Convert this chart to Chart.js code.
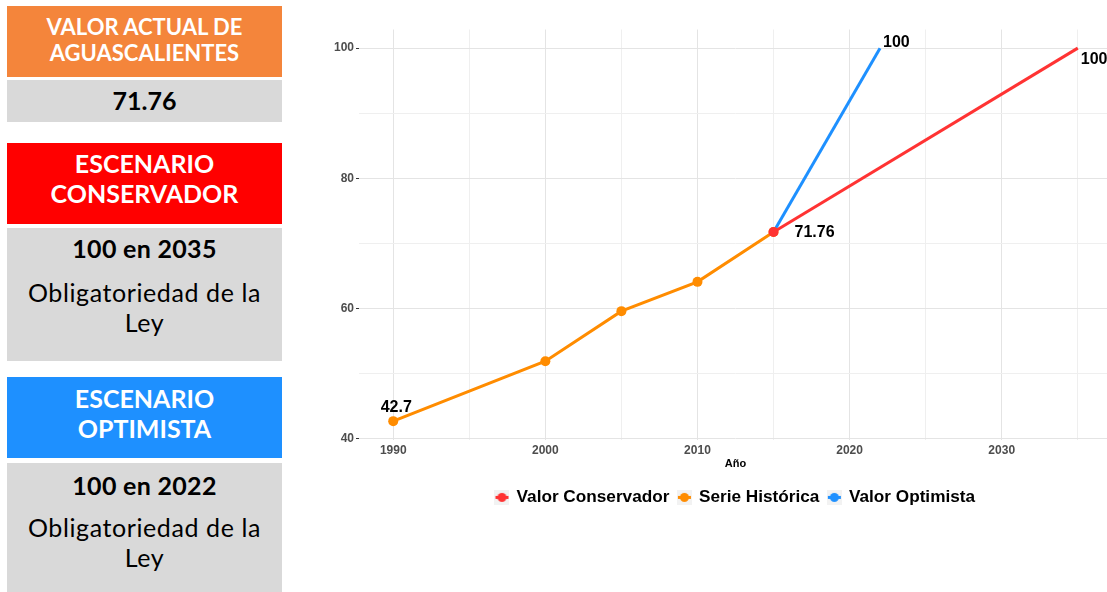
<!DOCTYPE html>
<html>
<head>
<meta charset="utf-8">
<script src="https://cdn.jsdelivr.net/npm/chart.js@4"></script>
<style>
  html, body { margin: 0; padding: 0; background: #fff; overflow: hidden; }
  body { width: 1107px; height: 592px; position: relative; font-family: Lato, "Open Sans", sans-serif; }
  .box { position: absolute; left: 7px; width: 275px; text-align: center; box-sizing: border-box; }
  .head { color: #fff; font-weight: 700; }
  .grey { background: #d9d9d9; color: #000; }
  .b { font-weight: 700; }
  .reg { font-size: 25px; letter-spacing: 0.6px; }
  #chart_canvas { position: absolute; left: 300px; top: 0; }
</style>
</head>
<body>
<div class="box head" style="top:6px;height:71px;background:#f4853b;font-size:22px;line-height:26px;padding-top:8px;">VALOR ACTUAL DE<br>AGUASCALIENTES</div>
<div class="box grey b" style="top:80px;height:42px;font-size:25px;line-height:40px;">71.76</div>

<div class="box head" style="top:143px;height:81px;background:#ff0000;font-size:25px;line-height:30px;padding-top:5px;">ESCENARIO<br>CONSERVADOR</div>
<div class="box grey" style="top:228px;height:133px;font-size:24px;line-height:30px;padding-top:5px;">
  <div class="b" style="font-size:25px;letter-spacing:0.3px;margin-bottom:14px;">100 en 2035</div>
  <div class="reg">Obligatoriedad de la<br>Ley</div>
</div>

<div class="box head" style="top:377px;height:81px;background:#1e90ff;font-size:25px;line-height:30px;padding-top:6px;">ESCENARIO<br>OPTIMISTA</div>
<div class="box grey" style="top:463px;height:129px;font-size:24px;line-height:30px;padding-top:7px;">
  <div class="b" style="font-size:25px;letter-spacing:0.3px;margin-bottom:12px;">100 en 2022</div>
  <div class="reg">Obligatoriedad de la<br>Ley</div>
</div>

<!-- wider than the window on purpose: the plot panel runs past the right edge -->
<canvas id="chart_canvas" width="817" height="592"></canvas>

<script>
// values
const histYears = [1990, 2000, 2005, 2010, 2015];
const histValues = [42.7, 51.9, 59.6, 64.1, 71.76];
const consYears = [2015, 2035];
const consValues = [71.76, 100];
const optYears = [2015, 2022];
const optValues = [71.76, 100];
const xTicks = [1990, 1995, 2000, 2005, 2010, 2015, 2020, 2025, 2030, 2035];
const yTicks = [40, 50, 60, 70, 80, 90, 100];
const xLabelTicks = [1990, 2000, 2010, 2020, 2030];
const yLabelTicks = [40, 60, 80, 100];

const RED = '#ff3333', ORANGE = '#ff8c00', BLUE = '#1e90ff';
const FONT = "'Liberation Sans', Arial, sans-serif";

const toPts = (xs, ys) => xs.map((x, i) => ({ x: x, y: ys[i] }));

function legendKey(color) {
  let c = document.createElement('canvas');
  c.width = 15; c.height = 15;
  let g = c.getContext('2d');
  g.fillStyle = '#f2f2f2';
  g.fillRect(0, 0, 15, 15);
  g.strokeStyle = color; g.lineWidth = 3;
  g.beginPath(); g.moveTo(1, 7.5); g.lineTo(14, 7.5); g.stroke();
  g.fillStyle = color;
  g.beginPath(); g.arc(7.5, 7.5, 4.5, 0, Math.PI * 2); g.fill();
  return c;
}
const keys = [legendKey(RED), legendKey(ORANGE), legendKey(BLUE)];

// which points get a value label: dataset, index, offset
const valueLabels = [
  { ds: 1, i: 0, dx: 3, dy: -14, align: 'center' },
  { ds: 0, i: 0, dx: 21, dy: 1, align: 'left' },
  { ds: 2, i: 1, dx: 3, dy: -6, align: 'left' },
  { ds: 0, i: 1, dx: 3, dy: 11, align: 'left' }
];

const labelPlugin = {
  id: 'valueLabels',
  afterDatasetsDraw(chart) {
    let g = chart.ctx;
    g.save();
    g.font = 'bold 16px ' + FONT;
    g.fillStyle = '#000';
    g.textBaseline = 'middle';
    valueLabels.forEach(l => {
      let pt = chart.getDatasetMeta(l.ds).data[l.i];
      let v = chart.data.datasets[l.ds].data[l.i].y;
      g.textAlign = l.align;
      g.fillText(String(v), pt.x + l.dx, pt.y + l.dy);
    });
    g.restore();
  }
};

let ctx = document.getElementById('chart_canvas');
let chart = new Chart(ctx, { // eslint-disable-line no-unused-vars
  type: 'line',
  data: {
    datasets: [{
      label: 'Valor Conservador',
      data: toPts(consYears, consValues),
      borderColor: RED,
      backgroundColor: RED,
      borderWidth: 3,
      pointRadius: [5, 0],
      pointBorderWidth: 0
    }, {
      label: 'Serie Histórica',
      data: toPts(histYears, histValues),
      borderColor: ORANGE,
      backgroundColor: ORANGE,
      borderWidth: 3,
      pointRadius: 5,
      pointBorderWidth: 0
    }, {
      label: 'Valor Optimista',
      data: toPts(optYears, optValues),
      borderColor: BLUE,
      backgroundColor: BLUE,
      borderWidth: 3,
      pointRadius: 0
    }]
  },
  options: {
    responsive: false,
    animation: false,
    layout: { padding: { top: 29.5, left: 0, right: 0, bottom: 76 } },
    scales: {
      x: {
        type: 'linear',
        min: 1987.75,
        max: 2037.25,
        afterBuildTicks: s => { s.ticks = xTicks.map(v => ({ value: v })); },
        afterFit: s => { s.height = 40; },
        border: { display: false },
        grid: {
          color: c => xLabelTicks.includes(c.tick.value) ? '#e4e4e4' : '#efefef',
          tickLength: 3,
          tickColor: 'rgba(0,0,0,0)'
        },
        ticks: {
          padding: 1,
          maxRotation: 0,
          autoSkip: false,
          color: '#4d4d4d',
          font: { family: FONT, size: 12, weight: 'bold' },
          callback: v => xLabelTicks.includes(v) ? String(v) : ''
        },
        title: {
          display: true,
          text: 'Año',
          color: '#000',
          padding: { top: 0, bottom: 9 },
          font: { family: FONT, size: 11, weight: 'bold' }
        }
      },
      y: {
        min: 39.835,
        max: 102.865,
        afterBuildTicks: s => { s.ticks = yTicks.map(v => ({ value: v })); },
        afterFit: s => { s.width = 59; },
        border: { display: false },
        grid: {
          color: c => yLabelTicks.includes(c.tick.value) ? '#e4e4e4' : '#efefef',
          tickLength: 3,
          tickColor: c => yLabelTicks.includes(c.tick.value) ? '#333' : 'rgba(0,0,0,0)'
        },
        ticks: {
          padding: 2,
          color: '#4d4d4d',
          font: { family: FONT, size: 12, weight: 'bold' },
          callback: v => yLabelTicks.includes(v) ? String(v) : ''
        }
      }
    },
    plugins: {
      tooltip: { enabled: false },
      legend: {
        position: 'bottom',
        fullSize: false,
        labels: {
          usePointStyle: true,
          boxWidth: 12,
          boxHeight: 12,
          padding: 9,
          color: '#000',
          font: { family: FONT, size: 17.2, weight: 'bold' },
          generateLabels: c => Chart.defaults.plugins.legend.labels.generateLabels(c)
            .map((item, i) => Object.assign(item, { pointStyle: keys[i] }))
        }
      }
    }
  },
  plugins: [labelPlugin]
});
</script>
</body>
</html>
